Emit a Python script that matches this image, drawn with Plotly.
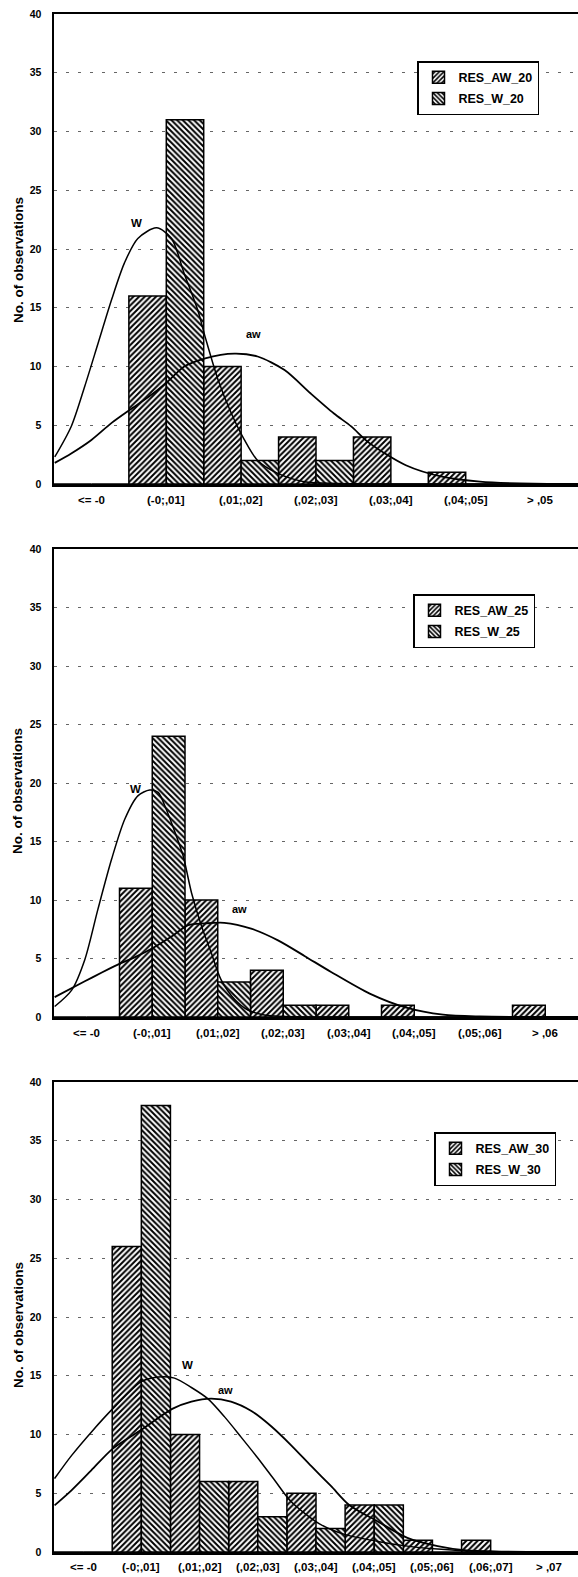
import plotly.graph_objects as go

# ---------------- data ----------------
cats20 = ["<= -0", "(-0;,01]", "(,01;,02]", "(,02;,03]", "(,03;,04]", "(,04;,05]", "> ,05"]
aw20 = [0, 16, 10, 4, 4, 1, 0]
w20 = [0, 31, 2, 2, 0, 0, 0]

cats25 = ["<= -0", "(-0;,01]", "(,01;,02]", "(,02;,03]", "(,03;,04]", "(,04;,05]", "(,05;,06]", "> ,06"]
aw25 = [0, 11, 10, 4, 1, 1, 0, 1]
w25 = [0, 24, 3, 1, 0, 0, 0, 0]

cats30 = ["<= -0", "(-0;,01]", "(,01;,02]", "(,02;,03]", "(,03;,04]", "(,04;,05]", "(,05;,06]", "(,06;,07]", "> ,07"]
aw30 = [0, 26, 10, 6, 5, 4, 1, 1, 0]
w30 = [0, 38, 6, 3, 2, 4, 0, 0, 0]

# fitted curves (x in category units)
w20_cx = [-0.49, -0.27, -0.09, 0.09, 0.27, 0.44, 0.62, 0.87, 1.07, 1.24, 1.42, 1.52, 1.69, 1.87, 2.04, 2.22, 2.49, 2.84, 3.3, 4.5, 6.5]
w20_cy = [2.3, 4.9, 8.3, 12.0, 15.7, 18.8, 20.9, 21.8, 20.9, 17.9, 14.8, 12.5, 8.9, 6.0, 3.8, 2.0, 0.9, 0.2, 0.05, 0, 0]
aw20_cx = [-0.49, -0.27, 0.0, 0.27, 0.51, 0.76, 1.0, 1.24, 1.52, 1.91, 2.22, 2.58, 2.93, 3.24, 3.47, 3.71, 4.2, 4.7, 5.19, 5.9, 6.5]
aw20_cy = [1.8, 2.6, 3.75, 5.2, 6.3, 7.4, 8.6, 10.0, 10.7, 11.1, 10.85, 9.7, 7.7, 6.0, 4.9, 3.5, 1.6, 0.6, 0.2, 0.02, 0]

w25_cx = [-0.49, -0.23, -0.03, 0.17, 0.38, 0.58, 0.78, 0.96, 1.09, 1.21, 1.34, 1.47, 1.6, 1.75, 1.9, 2.05, 2.26, 2.46, 2.71, 3.2, 4.5, 7.5]
w25_cy = [0.9, 2.3, 4.9, 9.2, 13.5, 16.9, 18.9, 19.4, 19.2, 17.8, 15.9, 13.8, 10.6, 7.8, 5.5, 3.2, 1.5, 0.6, 0.18, 0.02, 0, 0]
aw25_cx = [-0.49, -0.03, 0.23, 0.52, 0.73, 1.01, 1.3, 1.55, 1.8, 2.1, 2.51, 2.92, 3.33, 3.73, 4.32, 4.88, 5.44, 6.0, 7.5]
aw25_cy = [1.7, 3.05, 3.8, 4.6, 5.1, 5.9, 6.9, 7.85, 8.0, 8.05, 7.55, 6.55, 5.2, 3.85, 2.0, 0.8, 0.2, 0.05, 0]

w30_cx = [-0.49, -0.2, 0.14, 0.51, 1.0, 1.29, 1.57, 1.86, 2.14, 2.43, 2.71, 3.0, 3.29, 3.57, 4.06, 4.49, 5.06, 5.57, 6.09, 6.55, 7.2, 8.5]
w30_cy = [6.25, 8.2, 10.2, 12.2, 14.5, 14.9, 14.8, 14.0, 13.05, 11.5, 9.8, 8.0, 6.1, 4.3, 2.4, 1.5, 0.9, 0.5, 0.25, 0.1, 0.02, 0]
aw30_cx = [-0.49, -0.2, 0.14, 0.51, 1.0, 1.54, 1.86, 2.2, 2.54, 2.89, 3.23, 3.57, 3.92, 4.26, 4.57, 5.06, 5.57, 6.09, 6.55, 7.2, 8.5]
aw30_cy = [3.97, 5.25, 6.95, 8.8, 10.4, 12.2, 12.8, 13.05, 12.8, 12.0, 10.7, 9.1, 7.3, 5.6, 4.0, 2.6, 1.2, 0.5, 0.15, 0.03, 0]

y_ticks = [0, 5, 10, 15, 20, 25, 30, 35, 40]

panels = [
    dict(cats=cats20, aw=aw20, w=w20, wcx=w20_cx, wcy=w20_cy, acx=aw20_cx, acy=aw20_cy,
         names=("RES_AW_20", "RES_W_20"), wlab=(0.6, 22.2), alab=(2.16, 12.75)),
    dict(cats=cats25, aw=aw25, w=w25, wcx=w25_cx, wcy=w25_cy, acx=aw25_cx, acy=aw25_cy,
         names=("RES_AW_25", "RES_W_25"), wlab=(0.75, 19.5), alab=(2.33, 9.2)),
    dict(cats=cats30, aw=aw30, w=w30, wcx=w30_cx, wcy=w30_cy, acx=aw30_cx, acy=aw30_cy,
         names=("RES_AW_30", "RES_W_30"), wlab=(1.79, 15.9), alab=(2.45, 13.76)),
]

# ---------------- layout geometry ----------------
W, H = 578, 1577
FONT = "Liberation Sans, Arial, Helvetica, sans-serif"
x_dom = [54 / W, 1.0]
y_px = [(14, 484), (549, 1017), (1082, 1552)]
legend_px = [(417, 61), (413, 594), (434, 1132)]
title_y_px = [260, 791, 1325]
xlab_px = [500, 1033, 1567]

fig = go.Figure()
annotations = []
layout = dict(width=W, height=H, margin=dict(l=0, r=0, t=0, b=0, autoexpand=False),
              template="none",
              paper_bgcolor="white", plot_bgcolor="white", barmode="overlay",
              font=dict(family=FONT, color="black"))

for i, p in enumerate(panels):
    sfx = "" if i == 0 else str(i + 1)
    xa, ya = "x" + sfx, "y" + sfx
    lg = "legend" + sfx
    n = len(p["cats"])
    idx = list(range(n))
    fig.add_trace(go.Bar(
        x=idx, y=p["aw"], width=0.5, offset=-0.5, name=p["names"][0],
        xaxis=xa, yaxis=ya, legend=lg, legendgroup="aw" + sfx,
        marker=dict(color="white", line=dict(color="black", width=1.5),
                    pattern=dict(shape="/", fgcolor="black", bgcolor="white", size=4, solidity=0.5))))
    fig.add_trace(go.Bar(
        x=idx, y=p["w"], width=0.5, offset=0.0, name=p["names"][1],
        xaxis=xa, yaxis=ya, legend=lg, legendgroup="w" + sfx,
        marker=dict(color="white", line=dict(color="black", width=1.5),
                    pattern=dict(shape="\\", fgcolor="black", bgcolor="white", size=4, solidity=0.5))))
    fig.add_trace(go.Scatter(x=p["wcx"], y=p["wcy"], mode="lines", xaxis=xa, yaxis=ya,
                             line=dict(color="black", width=1.5, shape="spline", smoothing=0.8),
                             showlegend=False, hoverinfo="skip"))
    fig.add_trace(go.Scatter(x=p["acx"], y=p["acy"], mode="lines", xaxis=xa, yaxis=ya,
                             line=dict(color="black", width=1.8, shape="spline", smoothing=0.8),
                             showlegend=False, hoverinfo="skip"))

    top, bot = y_px[i]
    layout["xaxis" + sfx] = dict(
        domain=x_dom, anchor=ya, range=[-0.5, n - 0.5], tickvals=idx,
        showticklabels=False,
        showgrid=False, zeroline=False, showline=True, linecolor="black", linewidth=2.5,
        mirror=True, ticks="", automargin=False)
    layout["yaxis" + sfx] = dict(
        domain=[1 - bot / H, 1 - top / H], anchor=xa, range=[0, 40], tickvals=y_ticks,
        showgrid=True, gridcolor="#666666", griddash="3px,9px", gridwidth=1,
        zeroline=False, showline=True, linecolor="black", linewidth=2.5, mirror=False,
        ticks="", ticklen=0, ticklabelstandoff=8, automargin=False,
        tickfont=dict(family=FONT, size=10.5, color="black", weight="bold"))
    lx, ly = legend_px[i]
    layout[lg] = dict(x=lx / W, y=1 - ly / H, xanchor="left", yanchor="top",
                      xref="paper", yref="paper",
                      bgcolor="white", bordercolor="black", borderwidth=1.5,
                      font=dict(family=FONT, size=12.5, color="black", weight="bold"),
                      itemwidth=30, traceorder="grouped", tracegroupgap=2)

    # category labels under the axis
    for k, lab in enumerate(p["cats"]):
        annotations.append(dict(x=idx[k], y=1 - xlab_px[i] / H, xref=xa, yref="paper",
                                text=lab, showarrow=False, xanchor="center", yanchor="middle",
                                font=dict(family=FONT, size=11.5, color="black", weight="bold")))

    annotations.append(dict(x=p["wlab"][0], y=p["wlab"][1], xref=xa, yref=ya, text="W",
                            showarrow=False, font=dict(family=FONT, size=11.5, color="black", weight="bold")))
    annotations.append(dict(x=p["alab"][0], y=p["alab"][1], xref=xa, yref=ya, text="aw",
                            showarrow=False, font=dict(family=FONT, size=11, color="black", weight="bold")))
    annotations.append(dict(x=18 / W, y=1 - title_y_px[i] / H, xref="paper", yref="paper",
                            text="No. of observations", textangle=-90, showarrow=False,
                            xanchor="center", yanchor="middle",
                            font=dict(family=FONT, size=13.5, color="black", weight="bold")))

layout["annotations"] = annotations
fig.update_layout(**layout)
fig.write_html("out.html", config={"displayModeBar": False, "staticPlot": True},
               post_script="document.body.style.margin='0';document.body.style.padding='0';document.body.style.overflow='hidden';")
